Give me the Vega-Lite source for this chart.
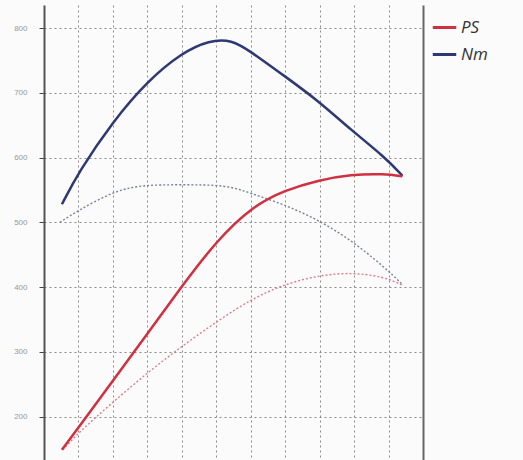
{
  "$schema": "https://vega.github.io/schema/vega-lite/v6.json",
  "autosize": "none",
  "width": 379,
  "height": 455,
  "padding": {"left": 44, "top": 5, "right": 100, "bottom": 0},
  "background": "#fbfbfb",
  "config": {"view": {"stroke": null}},
  "datasets": {
    "main": [
      {"rpm": 1260, "value": 528, "series": "Nm"},
      {"rpm": 1505, "value": 578, "series": "Nm"},
      {"rpm": 1994, "value": 655, "series": "Nm"},
      {"rpm": 2500, "value": 718, "series": "Nm"},
      {"rpm": 3003, "value": 762, "series": "Nm"},
      {"rpm": 3400, "value": 781, "series": "Nm"},
      {"rpm": 3723, "value": 782, "series": "Nm"},
      {"rpm": 3997, "value": 764, "series": "Nm"},
      {"rpm": 4501, "value": 725, "series": "Nm"},
      {"rpm": 4977, "value": 688, "series": "Nm"},
      {"rpm": 5452, "value": 643, "series": "Nm"},
      {"rpm": 5942, "value": 601, "series": "Nm"},
      {"rpm": 6202, "value": 572, "series": "Nm"},
      {"rpm": 1260, "value": 149, "series": "PS"},
      {"rpm": 1505, "value": 184, "series": "PS"},
      {"rpm": 1994, "value": 255, "series": "PS"},
      {"rpm": 2500, "value": 328, "series": "PS"},
      {"rpm": 3003, "value": 402, "series": "PS"},
      {"rpm": 3507, "value": 472, "series": "PS"},
      {"rpm": 4012, "value": 524, "series": "PS"},
      {"rpm": 4501, "value": 550, "series": "PS"},
      {"rpm": 4977, "value": 565, "series": "PS"},
      {"rpm": 5452, "value": 574, "series": "PS"},
      {"rpm": 5942, "value": 575, "series": "PS"},
      {"rpm": 6202, "value": 571, "series": "PS"}
    ],
    "ref": [
      {"rpm": 1230, "value": 500, "series": "Nm"},
      {"rpm": 1505, "value": 519, "series": "Nm"},
      {"rpm": 1994, "value": 547, "series": "Nm"},
      {"rpm": 2400, "value": 558, "series": "Nm"},
      {"rpm": 3003, "value": 558, "series": "Nm"},
      {"rpm": 3650, "value": 558, "series": "Nm"},
      {"rpm": 3997, "value": 545, "series": "Nm"},
      {"rpm": 4501, "value": 527, "series": "Nm"},
      {"rpm": 4977, "value": 504, "series": "Nm"},
      {"rpm": 5452, "value": 473, "series": "Nm"},
      {"rpm": 5942, "value": 431, "series": "Nm"},
      {"rpm": 6202, "value": 404, "series": "Nm"},
      {"rpm": 1274, "value": 149, "series": "PS"},
      {"rpm": 1505, "value": 176, "series": "PS"},
      {"rpm": 1994, "value": 222, "series": "PS"},
      {"rpm": 2500, "value": 268, "series": "PS"},
      {"rpm": 3003, "value": 309, "series": "PS"},
      {"rpm": 3507, "value": 347, "series": "PS"},
      {"rpm": 4012, "value": 382, "series": "PS"},
      {"rpm": 4501, "value": 405, "series": "PS"},
      {"rpm": 4977, "value": 418, "series": "PS"},
      {"rpm": 5452, "value": 423, "series": "PS"},
      {"rpm": 5942, "value": 416, "series": "PS"},
      {"rpm": 6202, "value": 403, "series": "PS"}
    ]
  },
  "layer": [
    {
      "data": {"name": "ref"},
      "mark": {"type": "line", "strokeWidth": 1.4, "strokeDash": [2, 2], "interpolate": "basis"},
      "encoding": {
        "x": {
          "field": "rpm", "type": "quantitative",
          "scale": {"domain": [1000, 6500], "nice": false, "zero": false},
          "axis": {"values": [1500, 2000, 2500, 3000, 3500, 4000, 4500, 5000, 5500, 6000], "labels": false, "ticks": false, "domain": false, "title": null, "grid": true, "gridColor": "#8a8a8a", "gridDash": [2, 3], "gridWidth": 1}
        },
        "y": {
          "field": "value", "type": "quantitative",
          "scale": {"domain": [133.3, 835.5], "nice": false, "zero": false},
          "axis": {"orient": "right", "labels": false, "ticks": false, "grid": false, "domain": true, "domainColor": "#666", "domainWidth": 2, "title": null}
        },
        "detail": {"field": "series"},
        "color": {
          "field": "series", "type": "nominal", "legend": null,
          "scale": {"domain": ["PS", "Nm"], "range": ["#d9808f", "#7c8098"]}
        }
      }
    },
    {
      "data": {"name": "main"},
      "mark": {"type": "line", "strokeWidth": 2.5, "interpolate": "basis"},
      "encoding": {
        "x": {
          "field": "rpm", "type": "quantitative",
          "axis": {"values": [1500, 2000, 2500, 3000, 3500, 4000, 4500, 5000, 5500, 6000], "labels": false, "ticks": false, "domain": false, "title": null, "grid": true, "gridColor": "#8a8a8a", "gridDash": [2, 3], "gridWidth": 1}
        },
        "y": {
          "field": "value", "type": "quantitative",
          "axis": {"orient": "left", "values": [200, 300, 400, 500, 600, 700, 800], "labelFontSize": 8, "labelColor": "#999", "labelPadding": 12, "tickSize": 5, "tickColor": "#444", "domain": true, "domainColor": "#555", "domainWidth": 2, "grid": true, "gridColor": "#8a8a8a", "gridDash": [2, 3], "gridWidth": 1, "title": null}
        },
        "color": {
          "field": "series", "type": "nominal",
          "scale": {"domain": ["PS", "Nm"], "range": ["#d0303f", "#2e3873"]},
          "legend": {"orient": "none", "legendX": 387, "legendY": 9, "title": null, "symbolType": "stroke", "symbolSize": 550, "symbolStrokeWidth": 3, "labelFontSize": 17, "labelFontStyle": "italic", "labelFont": "Open Sans", "labelColor": "#333", "rowPadding": 5, "labelOffset": 3}
        }
      }
    }
  ],
  "resolve": {"scale": {"color": "independent"}, "axis": {"y": "independent"}}
}
